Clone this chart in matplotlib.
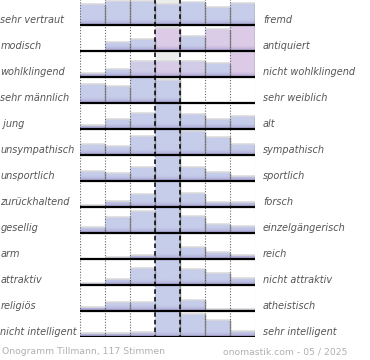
import numpy as np
import matplotlib
matplotlib.use("Agg")
import matplotlib.pyplot as plt
from matplotlib.transforms import blended_transform_factory

# ---- data -------------------------------------------------------------
links = ["sehr vertraut", "modisch", "wohlklingend", "sehr männlich", " jung",
         "unsympathisch", "unsportlich", "zurückhaltend", "gesellig", "arm",
         "attraktiv", "religiös", "nicht intelligent"]
rechts = ["fremd", "antiquiert", "nicht wohlklingend", "sehr weiblich", "alt",
          "sympathisch", "sportlich", "forsch", "einzelgängerisch", "reich",
          "nicht attraktiv", "atheistisch", "sehr intelligent"]
# bar heights per row (share of row height; values above 1 are clipped)
werte = [
    [0.77, 0.92, 0.92, 0.77, 0.88, 0.69, 0.83],
    [0.00, 0.31, 0.46, 0.88, 0.54, 0.81, 1.00],
    [0.13, 0.30, 0.58, 0.58, 0.60, 0.51, 1.00],
    [0.72, 0.62, 1.00, 0.87, 0.00, 0.00, 0.00],
    [0.13, 0.36, 0.60, 1.30, 0.54, 0.36, 0.49],
    [0.40, 0.32, 0.72, 1.30, 0.90, 0.68, 0.40],
    [0.35, 0.30, 0.51, 1.30, 0.51, 0.32, 0.17],
    [0.04, 0.20, 0.49, 1.30, 0.51, 0.17, 0.17],
    [0.21, 0.60, 0.83, 1.30, 0.63, 0.31, 0.25],
    [0.00, 0.06, 0.15, 1.30, 0.46, 0.25, 0.13],
    [0.06, 0.21, 0.63, 1.30, 0.60, 0.46, 0.25],
    [0.12, 0.31, 0.31, 1.30, 0.42, 0.06, 0.06],
    [0.12, 0.12, 0.19, 1.30, 0.87, 0.65, 0.23],
]
# pink tint share per bar (row, column) -> share
rosa = {(1, 3): 1.0, (1, 5): 0.9, (1, 6): 1.0,
        (2, 2): 0.4, (2, 3): 0.8, (2, 4): 0.5, (2, 6): 1.0}
fuss_links = "Onogramm Tillmann, 117 Stimmen"
fuss_rechts = "onomastik.com - 05 / 2025"

# ---- figure -------------------------------------------------------------
W, H = 370, 360
fig = plt.figure(figsize=(W / 100, H / 100), dpi=100)
ax = fig.add_axes([80 / W, (H - 337) / H, 175 / W, 338 / H])
n = len(links)
ax.set_xlim(0, 7)
ax.set_ylim(n, 0)
ax.axis("off")

blau = np.array([0xc6, 0xcd, 0xea]) / 255
pink = np.array([0xdd, 0xcb, 0xe7]) / 255
unten = np.array([0xa6, 0x9c, 0xd0]) / 255
cap = 0.96
px = 26.0

for r in range(n):
    base = r + 1
    # neutral column background
    ax.fill_between([3, 4], base - 1, base, color="#ececec", lw=0, zorder=0)
    for c, v in enumerate(werte[r]):
        if v <= 0:
            continue
        h = min(v, cap)
        col = blau + (pink - blau) * rosa.get((r, c), 0.0)
        N = max(int(h * px * 3), 2)
        d = (np.arange(N)[::-1] + 0.5) / N * h * px  # distance from bottom in px
        t = np.clip(1 - d / 6.0, 0, 1)[:, None] ** 1.5
        img = col[None, :] + (unten - col)[None, :] * t
        img = np.repeat(img[:, None, :], 2, axis=1)
        ax.imshow(img, extent=(c, c + 1, base, base - h), origin="upper",
                  aspect="auto", interpolation="bilinear", zorder=1)
        if v < cap:
            ax.plot([c, c + 1], [base - h - 0.02] * 2, color="#dadada",
                    lw=1.1, zorder=1.5, solid_capstyle="butt")
        ax.plot([c + 1 - 0.02] * 2, [base, base - h], color="#8c8c8c",
                lw=1.0, zorder=1.6, solid_capstyle="butt")
    ax.plot([0, 7], [base, base], color="black", lw=1.6, zorder=3,
            solid_capstyle="butt")

for x in [0, 1, 2, 5, 6, 7]:
    ax.plot([x, x], [0, n], color="#666666", lw=0.8, ls=(0, (1, 1.5)), zorder=2)
for x in [3, 4]:
    ax.plot([x, x], [0, n], color="black", lw=1.1, ls=(0, (3, 2)), zorder=2)
ax.set_xlim(0, 7)
ax.set_ylim(n, 0)

tr = blended_transform_factory(fig.transFigure, ax.transData)
for r in range(n):
    ax.text(0.5 / W, r + 0.79, links[r], transform=tr, ha="left", va="center",
            fontsize=7, style="italic", color="#555555")
    ax.text(7.32, r + 0.79, rechts[r], ha="left", va="center",
            fontsize=7, style="italic", color="#555555")

fig.text(2 / W, 1 - 352 / H, fuss_links, ha="left", va="center",
         fontsize=6.7, color="#b0b0b0")
fig.text(347 / W, 1 - 352 / H, fuss_rechts, ha="right", va="center",
         fontsize=6.7, color="#b0b0b0")

fig.savefig("out.png", dpi=100)
